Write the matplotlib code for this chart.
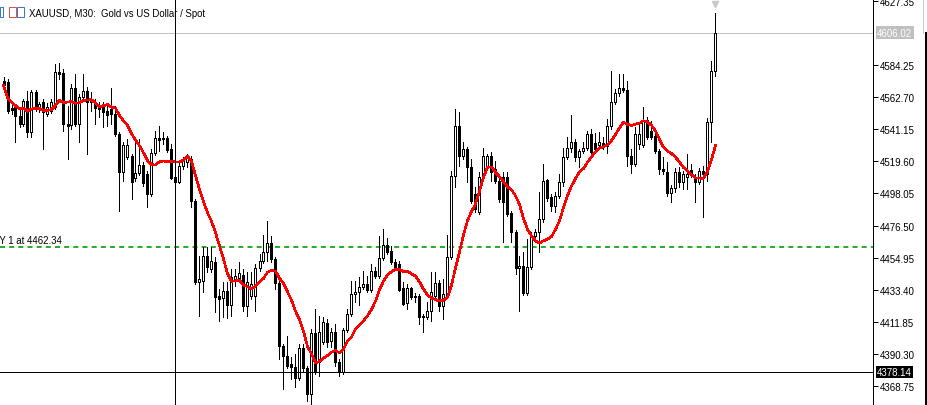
import matplotlib
matplotlib.use("Agg")
import matplotlib.pyplot as plt
import numpy as np
import pandas as pd
from matplotlib.lines import Line2D
from matplotlib.patches import Rectangle

# chart header / levels
symbol_title = "XAUUSD, M30:  Gold vs US Dollar / Spot"
bid_price = 4606.02
cross_price = 4378.14
cross_bar = 43
order_price = 4462.34
order_label = "BUY 1 at 4462.34"
ma_period = 10
price_ticks = [4627.35, 4584.25, 4562.70, 4541.15, 4519.60, 4498.05, 4476.50,
               4454.95, 4433.40, 4411.85, 4390.30, 4368.75]

# M30 candles, oldest first
opens = [
    4573.5, 4572.8, 4555.4, 4556.1, 4550.0, 4544.7, 4560.1, 4539.3, 4566.1, 4556.1,
    4559.4, 4551.4, 4553.4, 4556.1, 4579.6, 4578.9, 4544.7, 4544.0, 4568.8, 4544.7,
    4562.8, 4566.8, 4559.4, 4559.4, 4556.7, 4556.7, 4553.4, 4554.7, 4551.4, 4537.9,
    4512.4, 4522.5, 4523.2, 4508.4, 4511.8, 4517.1, 4511.1, 4497.7, 4525.2, 4535.3,
    4534.6, 4535.3, 4527.9, 4509.1, 4505.7, 4516.5, 4519.1, 4521.2, 4493.0, 4438.6,
    4439.3, 4456.0, 4447.3, 4452.0, 4429.2, 4427.8, 4432.5, 4423.2, 4440.6, 4441.3,
    4443.3, 4422.5, 4429.2, 4429.2, 4448.0, 4452.7, 4458.7, 4464.8, 4454.0, 4437.9,
    4395.6, 4388.9, 4383.5, 4381.5, 4374.1, 4394.3, 4380.9, 4363.4, 4404.4, 4384.9,
    4398.3, 4411.1, 4399.0, 4405.0, 4384.9, 4378.2, 4406.4, 4417.1, 4430.5, 4431.9,
    4435.2, 4437.2, 4433.2, 4446.0, 4442.6, 4454.7, 4463.4, 4459.4, 4452.0, 4450.7,
    4434.6, 4424.5, 4434.6, 4429.2, 4429.2, 4415.8, 4415.1, 4419.1, 4429.2, 4437.9,
    4422.5, 4429.2, 4455.4, 4509.7, 4543.3, 4523.2, 4527.9, 4515.8, 4497.7, 4485.6,
    4509.1, 4516.5, 4523.2, 4514.4, 4506.4, 4509.1, 4509.1, 4484.9, 4472.1, 4448.0,
    4449.3, 4431.2, 4448.7, 4469.5, 4472.1, 4480.9, 4507.1, 4495.6, 4489.6, 4496.3,
    4505.7, 4522.5, 4528.5, 4532.6, 4522.5, 4526.5, 4528.5, 4537.9, 4531.9, 4530.6,
    4531.9, 4529.9, 4543.3, 4559.4, 4565.5, 4568.8, 4567.5, 4523.2, 4517.8, 4531.2,
    4530.6, 4547.3, 4540.0, 4536.6, 4526.5, 4514.4, 4512.4, 4498.3, 4501.7, 4512.4,
    4505.7, 4509.1, 4513.8, 4509.1, 4505.7, 4513.1, 4511.1, 4546.0, 4580.2,
]
highs = [
    4576.2, 4574.9, 4558.1, 4557.4, 4554.7, 4561.4, 4566.8, 4567.5, 4567.5, 4559.4,
    4561.4, 4558.7, 4561.4, 4584.9, 4585.6, 4581.6, 4556.7, 4571.5, 4578.2, 4564.8,
    4578.2, 4569.5, 4566.1, 4561.4, 4559.4, 4559.4, 4556.7, 4568.8, 4556.7, 4539.3,
    4532.6, 4534.6, 4524.5, 4532.6, 4534.6, 4519.1, 4513.1, 4527.9, 4540.0, 4543.3,
    4539.3, 4536.6, 4531.2, 4514.4, 4519.1, 4522.5, 4524.5, 4523.2, 4494.3, 4456.0,
    4462.1, 4462.1, 4462.1, 4455.4, 4433.9, 4438.6, 4438.6, 4447.3, 4447.3, 4452.0,
    4447.3, 4445.3, 4445.3, 4450.7, 4457.4, 4470.1, 4479.5, 4469.5, 4455.4, 4439.3,
    4396.9, 4402.3, 4388.2, 4390.2, 4396.9, 4396.9, 4382.2, 4407.0, 4420.5, 4415.8,
    4415.1, 4413.7, 4407.7, 4410.4, 4386.9, 4407.7, 4420.5, 4439.3, 4439.3, 4442.0,
    4446.0, 4442.6, 4450.7, 4448.7, 4469.5, 4474.2, 4468.1, 4462.7, 4454.0, 4452.7,
    4438.6, 4437.2, 4435.2, 4431.2, 4430.5, 4417.1, 4425.2, 4445.3, 4445.3, 4439.9,
    4440.6, 4470.1, 4513.1, 4554.7, 4552.7, 4532.6, 4529.2, 4521.2, 4502.4, 4512.4,
    4528.5, 4524.5, 4525.9, 4519.8, 4507.7, 4512.4, 4512.4, 4486.2, 4473.5, 4456.0,
    4458.7, 4467.4, 4472.1, 4474.2, 4499.0, 4517.8, 4507.7, 4497.7, 4499.0, 4511.1,
    4528.5, 4535.9, 4550.7, 4534.6, 4527.9, 4532.6, 4540.0, 4541.3, 4538.6, 4539.3,
    4535.9, 4548.0, 4580.2, 4568.1, 4578.2, 4578.2, 4573.5, 4527.9, 4542.6, 4544.7,
    4556.1, 4549.4, 4546.7, 4542.0, 4527.9, 4522.5, 4519.1, 4503.7, 4515.1, 4515.8,
    4513.1, 4524.5, 4517.8, 4511.1, 4515.1, 4516.5, 4548.7, 4586.9, 4619.2,
]
lows = [
    4566.8, 4552.0, 4551.4, 4532.6, 4542.6, 4543.3, 4535.9, 4535.9, 4553.4, 4552.7,
    4527.9, 4550.0, 4552.0, 4554.7, 4574.9, 4540.0, 4521.2, 4541.3, 4543.3, 4532.6,
    4561.4, 4524.5, 4553.4, 4544.7, 4549.4, 4542.6, 4543.3, 4544.7, 4536.6, 4486.2,
    4506.4, 4521.2, 4494.3, 4506.4, 4510.4, 4503.0, 4488.9, 4496.3, 4523.8, 4526.5,
    4531.2, 4525.9, 4507.7, 4504.4, 4505.0, 4514.4, 4515.8, 4488.9, 4437.2, 4415.8,
    4431.9, 4445.3, 4445.3, 4418.4, 4412.4, 4415.1, 4414.4, 4415.8, 4435.9, 4438.6,
    4419.1, 4415.8, 4427.2, 4419.1, 4446.0, 4451.3, 4452.7, 4452.0, 4433.9, 4386.9,
    4366.8, 4380.9, 4373.5, 4368.1, 4372.8, 4378.8, 4358.7, 4356.7, 4376.8, 4375.5,
    4396.9, 4394.9, 4394.9, 4382.2, 4375.5, 4376.8, 4405.0, 4415.8, 4425.2, 4423.2,
    4433.9, 4431.9, 4431.9, 4441.3, 4441.3, 4453.4, 4457.4, 4450.7, 4447.3, 4432.5,
    4423.2, 4420.5, 4427.2, 4425.2, 4410.4, 4405.0, 4413.7, 4412.4, 4427.2, 4419.1,
    4413.7, 4427.8, 4454.0, 4502.4, 4516.5, 4521.2, 4505.7, 4491.6, 4485.6, 4484.2,
    4507.7, 4514.4, 4506.4, 4505.0, 4492.3, 4465.4, 4482.9, 4465.4, 4444.0, 4419.1,
    4429.9, 4429.9, 4447.3, 4467.4, 4458.7, 4478.9, 4493.0, 4486.2, 4485.6, 4495.0,
    4503.0, 4521.2, 4525.9, 4519.8, 4515.8, 4525.2, 4527.2, 4524.5, 4525.9, 4529.2,
    4527.9, 4525.2, 4541.3, 4558.1, 4563.5, 4566.1, 4516.5, 4511.8, 4516.5, 4527.9,
    4529.2, 4534.6, 4534.6, 4525.2, 4511.1, 4511.1, 4496.3, 4492.3, 4499.0, 4502.4,
    4501.0, 4501.0, 4509.1, 4492.3, 4504.4, 4482.2, 4506.4, 4532.6, 4576.9,
]
closes = [
    4570.8, 4553.4, 4554.0, 4550.0, 4544.7, 4560.1, 4539.3, 4566.1, 4556.1, 4558.1,
    4552.7, 4556.1, 4559.4, 4579.6, 4578.2, 4544.7, 4543.3, 4568.8, 4544.7, 4562.8,
    4566.8, 4559.4, 4561.4, 4555.4, 4554.7, 4552.7, 4550.7, 4551.4, 4537.9, 4512.4,
    4530.6, 4530.6, 4505.7, 4511.8, 4517.1, 4505.0, 4497.7, 4525.2, 4535.3, 4533.9,
    4535.3, 4527.2, 4508.4, 4505.7, 4516.5, 4519.8, 4522.5, 4493.0, 4438.6, 4440.6,
    4456.0, 4448.7, 4452.7, 4428.5, 4427.2, 4432.5, 4423.2, 4442.0, 4442.6, 4444.6,
    4422.5, 4438.6, 4437.2, 4448.0, 4452.7, 4458.7, 4464.8, 4454.0, 4437.9, 4395.6,
    4388.9, 4382.2, 4381.5, 4374.1, 4394.3, 4380.9, 4363.4, 4404.4, 4378.2, 4405.0,
    4411.7, 4398.3, 4405.0, 4384.9, 4378.2, 4406.4, 4417.1, 4430.5, 4431.9, 4435.2,
    4437.2, 4433.2, 4446.0, 4442.6, 4454.7, 4463.4, 4458.7, 4452.0, 4448.7, 4433.2,
    4423.8, 4434.6, 4428.5, 4428.5, 4415.1, 4415.1, 4419.1, 4431.9, 4437.9, 4422.5,
    4430.5, 4455.4, 4509.7, 4543.3, 4523.2, 4527.9, 4515.8, 4493.0, 4487.6, 4509.1,
    4523.2, 4523.2, 4512.4, 4506.4, 4494.3, 4492.3, 4484.2, 4472.1, 4448.0, 4449.3,
    4431.2, 4448.7, 4469.5, 4472.1, 4480.9, 4506.4, 4495.0, 4489.6, 4496.3, 4505.7,
    4522.5, 4528.5, 4532.6, 4522.5, 4526.5, 4528.5, 4537.9, 4525.9, 4527.9, 4532.6,
    4529.9, 4543.3, 4559.4, 4565.5, 4568.8, 4567.5, 4523.2, 4517.8, 4537.9, 4537.9,
    4547.3, 4535.9, 4535.9, 4526.5, 4514.4, 4513.1, 4498.3, 4501.7, 4512.4, 4505.7,
    4511.1, 4511.1, 4511.1, 4505.7, 4513.1, 4511.1, 4546.0, 4580.2, 4606.02,
]

W, H = 928, 406
plot_w = 873  # price scale starts here
bar_px = 4    # pixels per bar, MT4 zoom level

fig = plt.figure(figsize=(W / 100, H / 100), dpi=100)
fig.patch.set_facecolor("white")
ax = fig.add_axes([0, 0, plot_w / W, 1])

o = np.array(opens)
h = np.array(highs)
l = np.array(lows)
c = np.array(closes)
idx = np.arange(len(c))
up = c >= o

px = 0.72  # one pixel in points
ax.vlines(idx, l, h, color="black", lw=px, antialiased=False, zorder=3)
ax.bar(idx[up], (c - o)[up], bottom=o[up], width=0.5, facecolor="white",
       edgecolor="black", lw=px, antialiased=False, zorder=4)
ax.bar(idx[~up], (c - o)[~up], bottom=o[~up], width=0.5, facecolor="black",
       edgecolor="black", lw=px, antialiased=False, zorder=4)

ma = pd.Series(c).rolling(ma_period, min_periods=1).mean()
ax.plot(idx, ma, color="#ff0000", lw=1.6 * px, antialiased=False, zorder=5)

# levels and crosshair
ax.axhline(bid_price, color="#c0c0c0", lw=px, antialiased=False, zorder=1)
ax.axhline(order_price, color="#00a000", lw=1.2, linestyle=(0, (3, 2.5)), zorder=2)
ax.axhline(cross_price, color="black", lw=px, antialiased=False, zorder=6)
ax.axvline(cross_bar, color="black", lw=px, antialiased=False, zorder=6)

y_top = 4628.56
y_bot = 4356.01
ax.set_ylim(y_bot, y_top)
x0 = -0.875
ax.set_xlim(x0, x0 + plot_w / bar_px)

price_per_px = (y_top - y_bot) / H
ax.plot([idx[-1]], [y_top - 4.5 * price_per_px], marker="v", ms=5,
        color="#c8c8c8", clip_on=False, zorder=6)

font = "Liberation Sans"
ax.text(-14 / plot_w, order_price + 1.5 * price_per_px, order_label,
        transform=ax.get_yaxis_transform(), fontsize=6.9, family=font,
        ha="left", va="bottom", clip_on=True)

for side in ["left", "top", "bottom"]:
    ax.spines[side].set_visible(False)
ax.spines["right"].set_linewidth(px)
ax.set_xticks([])
ax.yaxis.tick_right()
ax.set_yticks(price_ticks)
ax.set_yticklabels([f"{v:.2f}" for v in price_ticks], family=font, fontsize=7)
ax.tick_params(axis="y", length=3.6, width=px, pad=1, direction="out")

label_x = 1 + 4 / plot_w
ax.text(label_x, bid_price, f"{bid_price:.2f}", transform=ax.get_yaxis_transform(),
        fontsize=7, family=font, color="white", ha="left", va="center",
        bbox=dict(boxstyle="square,pad=0.15", fc="#c0c0c0", ec="none"), clip_on=False)
ax.text(label_x, cross_price, f"{cross_price:.2f}", transform=ax.get_yaxis_transform(),
        fontsize=7, family=font, color="white", ha="left", va="center",
        bbox=dict(boxstyle="square,pad=0.15", fc="black", ec="none"), clip_on=False)

# header
fig.text(29 / W, 1 - 14 / H, symbol_title, fontsize=6.9, family=font,
         ha="left", va="center")
fig.add_artist(Rectangle((0, 1 - 18 / H), 3 / W, 10 / H, fill=False,
                         ec="#3a78c8", lw=px, transform=fig.transFigure))
fig.add_artist(Rectangle((9 / W, 1 - 18 / H), 7 / W, 10 / H, fill=False,
                         ec="#e05050", lw=px, transform=fig.transFigure))
fig.add_artist(Rectangle((17 / W, 1 - 18 / H), 7 / W, 10 / H, fill=False,
                         ec="#3a78c8", lw=px, transform=fig.transFigure))

# window border on the right
fig.add_artist(Line2D([923.5 / W, 923.5 / W], [1, 1 - 34 / H], color="#c8c8c8",
                      lw=px, transform=fig.transFigure))
fig.add_artist(Line2D([926 / W, 926 / W], [1 - 34 / H, 0], color="black",
                      lw=2 * px, transform=fig.transFigure))

fig.savefig("out.png", dpi=100)
